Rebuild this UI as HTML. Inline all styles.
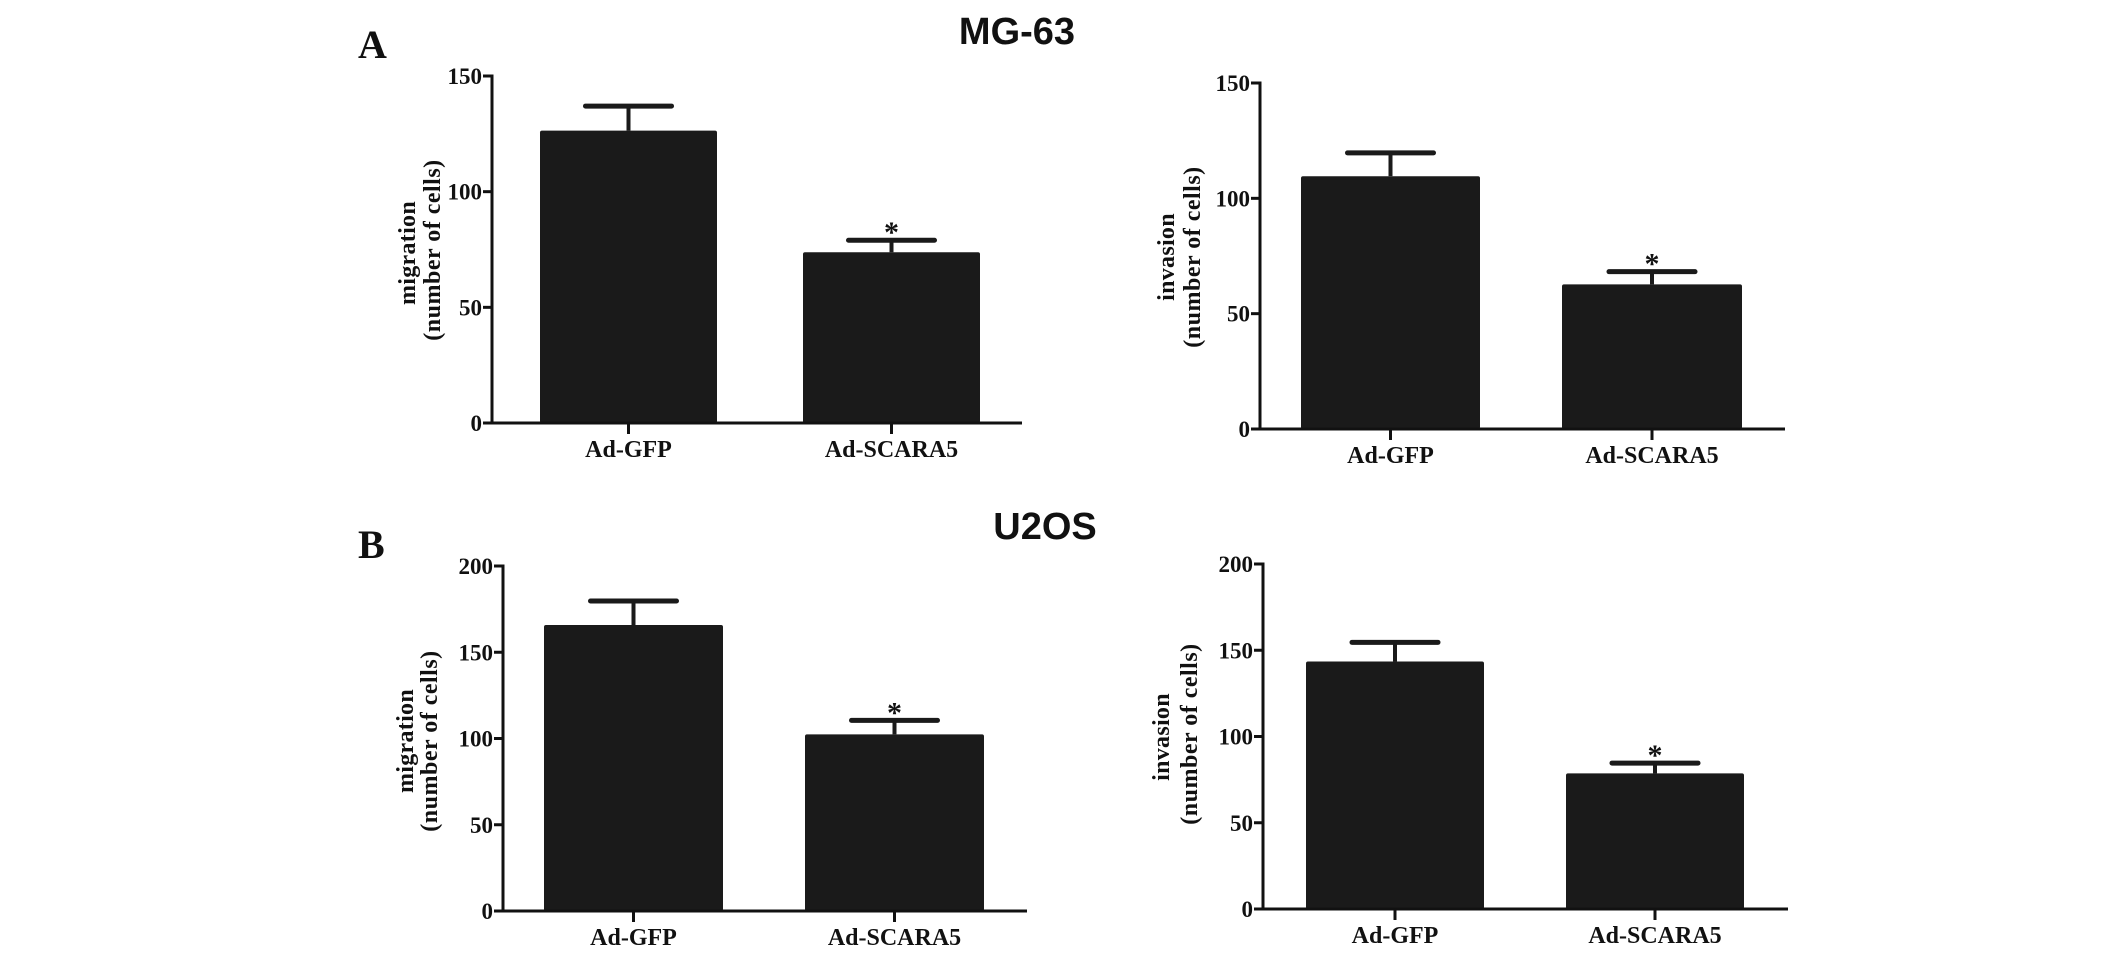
<!DOCTYPE html>
<html><head><meta charset="utf-8"><style>
html,body{margin:0;padding:0;background:#fff;}
svg{display:block;}
text{font-family:"Liberation Serif",serif;font-weight:bold;fill:#111;}
.ttl{font-family:"Liberation Sans",sans-serif;}
</style></head><body>
<svg id="fig" width="2126" height="953" viewBox="0 0 2126 953" xmlns="http://www.w3.org/2000/svg">
  <text x="358" y="58" font-size="40">A</text>
  <text x="358" y="558" font-size="40">B</text>
  <text class="ttl" x="1017" y="44" font-size="38" text-anchor="middle">MG-63</text>
  <text class="ttl" x="1045" y="539" font-size="38" text-anchor="middle">U2OS</text>
</svg>
<script>
const categories = ["Ad-GFP", "Ad-SCARA5"];
const mgMigrationMeans = [126.4, 73.8];
const mgMigrationErr = [10.6, 5.2];
const mgInvasionMeans = [109.6, 62.7];
const mgInvasionErr = [10.1, 5.5];
const u2Migration_Means = [165.8, 102.4];
const u2MigrationErr = [13.9, 8.1];
const u2InvasionMeans = [143.5, 78.6];
const u2InvasionErr = [11.1, 6.0];
const ticks150 = [0, 50, 100, 150];
const ticks200 = [0, 50, 100, 150, 200];
const significant = [false, true];

const NS = "http://www.w3.org/2000/svg";
const svg = document.getElementById('fig');
function mk(tag, attrs, parent) {
  const e = document.createElementNS(NS, tag);
  for (const k in attrs) e.setAttribute(k, attrs[k]);
  (parent || svg).appendChild(e);
  return e;
}
function chart(id, layout, means, errs, ticks, ymax, t1) {
  const g = mk('g', {});
  
  
  const yS = v => layout.y0 - (v / ymax) * (layout.y0 - layout.yTop);
  means.forEach((m, i) => {
    const x0 = layout.bars[i][0], x1 = layout.bars[i][1], cx = (x0 + x1) / 2;
    const top = yS(m), et = yS(m + errs[i]);
    const stem = mk('line', {x1: cx, x2: cx, y1: top, y2: et, stroke: '#1a1a1a', 'stroke-width': 4}, g);
    
    
    const cap = mk('line', {x1: cx - 43, x2: cx + 43, y1: et, y2: et, stroke: '#1a1a1a', 'stroke-width': 5, 'stroke-linecap': 'round'}, g);
    
    
    const r = mk('rect', {x: x0, y: top, width: x1 - x0, height: layout.y0 - top, rx: 2, fill: '#1a1a1a'}, g);
    
    
    if (significant[i]) {
      const s = mk('text', {x: cx, y: et + 2, 'font-size': 30, 'text-anchor': 'middle'}, g);
      
      
      s.textContent = '*';
    }
    const xt = mk('line', {x1: cx, x2: cx, y1: layout.y0, y2: layout.y0 + 11, stroke: '#111', 'stroke-width': 3}, g);
    
    
    const lb = mk('text', {x: cx, y: layout.y0 + 34, 'font-size': 24, 'text-anchor': 'middle'}, g);
    
    
    lb.textContent = categories[i];
  });
  const ya = mk('line', {x1: layout.ax, x2: layout.ax, y1: yS(ymax) - 1.5, y2: layout.y0 + 1.5, stroke: '#111', 'stroke-width': 3}, g);
  
  
  const xa = mk('line', {x1: layout.ax, x2: layout.axEnd, y1: layout.y0, y2: layout.y0, stroke: '#111', 'stroke-width': 3}, g);
  
  
  ticks.forEach(t => {
    const y = yS(t);
    const tk = mk('line', {x1: layout.ax - 9, x2: layout.ax, y1: y, y2: y, stroke: '#111', 'stroke-width': 3}, g);
    
    
    const tl = mk('text', {x: layout.ax - 10, y: y + 8, 'font-size': 23, 'text-anchor': 'end'}, g);
    
    
    tl.textContent = t;
  });
  const lines = [[t1, layout.tx1, layout.ty1, 0.3], ['(number of cells)', layout.tx2, layout.ty2, 0.5]];
  lines.forEach((L, j) => {
    const t = mk('text', {x: 0, y: 0, 'font-size': 24, 'text-anchor': 'middle', 'dominant-baseline': 'central',
      'letter-spacing': L[3], transform: `translate(${L[1]},${L[2]}) rotate(-90)`}, g);
    
    
    t.textContent = L[0];
  });
}
chart('mg63-migration', {ax: 492, axEnd: 1022, y0: 423, yTop: 76, bars: [[540, 717], [803, 980]], tx1: 408, ty1: 253, tx2: 433, ty2: 250},
  mgMigrationMeans, mgMigrationErr, ticks150, 150, 'migration');
chart('mg63-invasion', {ax: 1260, axEnd: 1785, y0: 429, yTop: 83, bars: [[1301, 1480], [1562, 1742]], tx1: 1167, ty1: 257, tx2: 1193, ty2: 257},
  mgInvasionMeans, mgInvasionErr, ticks150, 150, 'invasion');
chart('u2os-migration', {ax: 503, axEnd: 1027, y0: 911, yTop: 566, bars: [[544, 723], [805, 984]], tx1: 406, ty1: 741, tx2: 430, ty2: 741},
  u2Migration_Means, u2MigrationErr, ticks200, 200, 'migration');
chart('u2os-invasion', {ax: 1263, axEnd: 1788, y0: 909, yTop: 564, bars: [[1306, 1484], [1566, 1744]], tx1: 1162, ty1: 737, tx2: 1190, ty2: 734},
  u2InvasionMeans, u2InvasionErr, ticks200, 200, 'invasion');
</script>
</body></html>
